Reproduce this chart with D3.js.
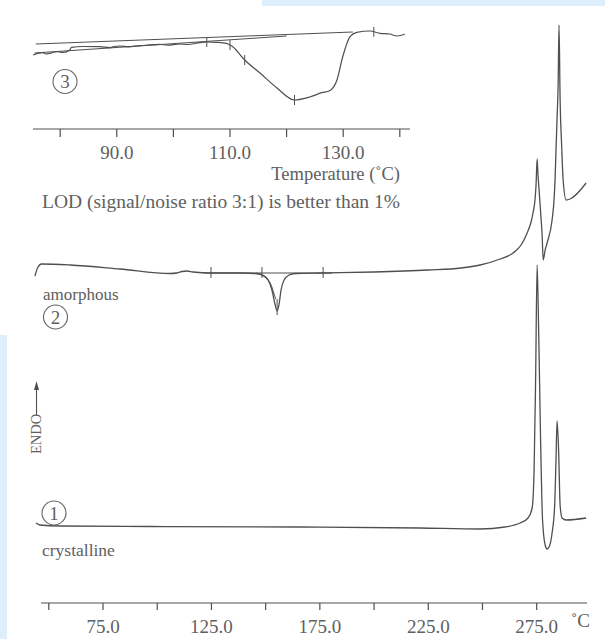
<!DOCTYPE html>
<html>
<head>
<meta charset="utf-8">
<script src="https://cdn.jsdelivr.net/npm/d3@7"></script>
<style>
  body { margin: 0; background: #fff; }
  svg { display: block; }
  text { font-family: "Liberation Serif", "DejaVu Serif", serif; fill: #606060; }
</style>
</head>
<body>
<div id="chart"></div>
<script>
// main thermogram, temperature in deg C, signal in arbitrary units
const crystallineT = [44.1, 45.9, 55.2, 96.7, 165.9, 221.2, 248.9, 260.4, 267.3, 271.0, 272.9, 273.8, 274.5, 275.2,
  275.9, 276.8, 277.7, 278.9, 279.8, 280.9, 282.1, 283.3, 283.9, 284.4, 285.1, 285.8, 286.7, 288.6, 297.8];
const crystallineV = [8.0, 7.8, 7.7, 7.65, 7.6, 7.5, 7.4, 7.6, 8.0, 8.5, 9.5, 13.3, 22.3, 33.8,
  27.3, 16.3, 8.3, 5.8, 5.4, 5.7, 7.0, 9.8, 14.3, 18.2, 15.3, 9.8, 8.5, 8.3, 8.5];

const amorphousT = [43.6, 44.8, 46.7, 59.8, 82.8, 105.9, 109.1, 111.4, 113.7, 116.5, 124.8, 140.0, 145.1, 148.3,
  151.1, 152.9, 154.3, 155.3, 156.2, 157.1, 158.5, 160.8, 163.6, 176.5, 200.0, 224.9, 240.1, 248.9, 258.1,
  264.1, 267.8, 270.6, 272.4, 273.3, 274.3, 274.7, 275.2, 275.6, 276.1, 276.8, 277.5, 278.0, 278.9, 279.8,
  282.1, 283.0, 283.5, 283.9, 284.4, 284.9, 285.3, 285.8, 286.5, 287.2, 288.6, 290.4, 297.8];
const amorphousV = [32.7, 33.5, 33.9, 33.8, 33.4, 32.95, 33.0, 33.15, 33.2, 33.1, 33.0, 33.0, 32.95, 32.8,
  32.3, 31.3, 29.9, 29.2, 29.9, 31.3, 32.3, 32.8, 32.95, 33.0, 33.1, 33.3, 33.5, 33.8, 34.4,
  35.0, 35.8, 37.0, 38.1, 39.0, 40.5, 41.8, 44.4, 42.8, 41.3, 39.1, 36.8, 34.3, 35.3, 36.0,
  38.3, 40.3, 42.5, 45.3, 48.5, 52.0, 57.8, 50.3, 45.8, 42.3, 40.3, 40.4, 42.0];

// integration baseline and partial-area line of the glass transition dip
const dipBaseT = [121.5, 180.5];
const dipBaseV = [33.0, 33.0];
const dipPartT = [145.5, 149.5, 152.5, 154.6];
const dipPartV = [33.0, 32.7, 31.8, 30.4];
const dipMarkT = [124.8, 148.3, 176.5];
const dipMinT = 155.3;

const mainTicks = [50, 75, 100, 125, 150, 175, 200, 225, 250, 275];
const mainLabels = [75, 125, 175, 225, 275];

// inset (3), zoomed region
const insetT = [75.2, 76.9, 77.5, 78.2, 79.0, 79.6, 80.5, 81.7, 82.0, 84.0, 87.0, 88.8, 89.5, 90.5, 92.0,
  94.1, 95.5, 97.6, 99.0, 101.1, 102.5, 104.7, 106.0, 107.7, 109.4, 110.5, 112.6, 115.3, 118.3, 121.4,
  124.1, 126.2, 127.6, 128.9, 129.9, 131.2, 132.4, 134.7, 136.5, 138.2, 139.5, 140.9];
const insetV = [74, 76.3, 75, 75.7, 77, 77.3, 76.5, 79, 81.7, 82.5, 82.3, 81.3, 82.5, 83, 82.2,
  83.3, 84, 84.7, 83.8, 85, 84.5, 86.3, 87, 86.7, 85.7, 82.3, 69, 56, 41, 29,
  32, 36.3, 38.3, 49, 72, 92.3, 96.7, 98, 95.7, 95, 93, 94.7];
const insetLineA = { t: [75.7, 131.7], v: [85, 97] };
const insetLineB = { t: [75.5, 120.0], v: [76, 93] };
const insetMarkT = [105.9, 110.0, 112.6, 121.4, 135.4];
const insetTicks = [80, 90, 100, 110, 120, 130, 140];
const insetLabels = [90, 110, 130];

const W = 605, H = 639;
const ink = '#4f4f4f';

const svg = d3.select('#chart').append('svg').attr('width', W).attr('height', H);

// faint blue page background of the scan
svg.append('rect').attr('x', 0).attr('y', 335).attr('width', 7).attr('height', 304).attr('fill', '#dceffb');
svg.append('rect').attr('x', 262).attr('y', 0).attr('width', 343).attr('height', 6).attr('fill', '#dceffb');

const x = d3.scaleLinear().domain([46.4, 298.2]).range([41, 587]);
const y = d3.scaleLinear().domain([0, 60]).range([603, 3]);

const line = d3.line().x(d => x(d[0])).y(d => y(d[1])).curve(d3.curveMonotoneX);
const straight = d3.line().x(d => x(d[0])).y(d => y(d[1]));

function interp(ts, vs, t) {
  const i = Math.max(1, d3.bisectLeft(ts, t));
  const k = (t - ts[i - 1]) / (ts[i] - ts[i - 1]);
  return vs[i - 1] + k * (vs[i] - vs[i - 1]);
}

const curves = svg.append('g').attr('fill', 'none').attr('stroke', ink).attr('stroke-width', 1.3);

curves.append('path').attr('d', line(d3.zip(crystallineT, crystallineV)));
curves.append('path').attr('d', line(d3.zip(amorphousT, amorphousV)));
curves.append('path').attr('d', straight(d3.zip(dipBaseT, dipBaseV))).attr('stroke-width', 1);
curves.append('path').attr('d', line(d3.zip(dipPartT, dipPartV))).attr('stroke-width', 1);

dipMarkT.forEach(t => {
  const cy = y(interp(dipBaseT, dipBaseV, t));
  curves.append('line').attr('x1', x(t)).attr('x2', x(t)).attr('y1', cy - 6).attr('y2', cy + 5).attr('stroke-width', 1);
});
curves.append('line').attr('x1', x(dipMinT)).attr('x2', x(dipMinT))
  .attr('y1', y(interp(amorphousT, amorphousV, dipMinT)) - 12)
  .attr('y2', y(interp(amorphousT, amorphousV, dipMinT)) + 4).attr('stroke-width', 1);

// main axis
const axisG = svg.append('g').attr('stroke', ink).attr('stroke-width', 1.2);
axisG.append('line').attr('x1', x.range()[0]).attr('x2', x.range()[1]).attr('y1', 603).attr('y2', 603);
axisG.selectAll('.tk').data(mainTicks).enter().append('line')
  .attr('x1', d => x(d)).attr('x2', d => x(d)).attr('y1', 603).attr('y2', 610);
svg.selectAll('.ml').data(mainLabels).enter().append('text')
  .attr('x', d => x(d)).attr('y', 633).attr('text-anchor', 'middle')
  .attr('font-size', 19).text(d => d3.format('.1f')(d));
svg.append('text').attr('x', 571).attr('y', 627).attr('font-size', 19).text('˚C');

// ENDO label with arrow
svg.append('text').attr('transform', 'translate(41,454) rotate(-90)').attr('font-size', 14.5).text('ENDO');
svg.append('line').attr('x1', 36.5).attr('x2', 36.5).attr('y1', 415).attr('y2', 386).attr('stroke', ink).attr('stroke-width', 1.1);
svg.append('path').attr('d', 'M36.5,381 L34,390 L39,390 Z').attr('fill', ink);

// curve labels
function circled(cx, cy, s) {
  svg.append('circle').attr('cx', cx).attr('cy', cy).attr('r', 12)
    .attr('fill', 'none').attr('stroke', '#666').attr('stroke-width', 1.1);
  svg.append('text').attr('x', cx).attr('y', cy + 6.5).attr('text-anchor', 'middle').attr('font-size', 19).text(s);
}
circled(54, 513, '1');
circled(55.5, 317, '2');
circled(65, 81.5, '3');
svg.append('text').attr('x', 42).attr('y', 556).attr('font-size', 17.5).text('crystalline');
svg.append('text').attr('x', 43).attr('y', 300).attr('font-size', 17).text('amorphous');

// inset
const xi = d3.scaleLinear().domain([75.2, 141.8]).range([33, 410]);
const yi = d3.scaleLinear().domain([0, 100]).range([129, 29]);
const lineI = d3.line().x(d => xi(d[0])).y(d => yi(d[1])).curve(d3.curveMonotoneX);
const straightI = d3.line().x(d => xi(d[0])).y(d => yi(d[1]));

const inset = svg.append('g').attr('fill', 'none').attr('stroke', ink).attr('stroke-width', 1.2);
inset.append('path').attr('d', lineI(d3.zip(insetT, insetV)));
inset.append('path').attr('d', straightI(d3.zip(insetLineA.t, insetLineA.v))).attr('stroke-width', 1);
inset.append('path').attr('d', straightI(d3.zip(insetLineB.t, insetLineB.v))).attr('stroke-width', 1);
insetMarkT.forEach(t => {
  const cy = yi(interp(insetT, insetV, t));
  inset.append('line').attr('x1', xi(t)).attr('x2', xi(t)).attr('y1', cy - 5).attr('y2', cy + 5).attr('stroke-width', 1);
});

inset.append('line').attr('x1', 33).attr('x2', 410).attr('y1', 129).attr('y2', 129);
inset.selectAll('.it').data(insetTicks).enter().append('line')
  .attr('x1', d => xi(d)).attr('x2', d => xi(d)).attr('y1', 129).attr('y2', 137);
svg.selectAll('.il').data(insetLabels).enter().append('text')
  .attr('x', d => xi(d)).attr('y', 158.5).attr('text-anchor', 'middle')
  .attr('font-size', 19).text(d => d3.format('.1f')(d));
svg.append('text').attr('x', 400).attr('y', 180).attr('text-anchor', 'end').attr('font-size', 18.5).text('Temperature (˚C)');
svg.append('text').attr('x', 42).attr('y', 208).attr('font-size', 19.5)
  .attr('textLength', 358).attr('lengthAdjust', 'spacingAndGlyphs')
  .text('LOD (signal/noise ratio 3:1) is better than 1%');
</script>
</body>
</html>
